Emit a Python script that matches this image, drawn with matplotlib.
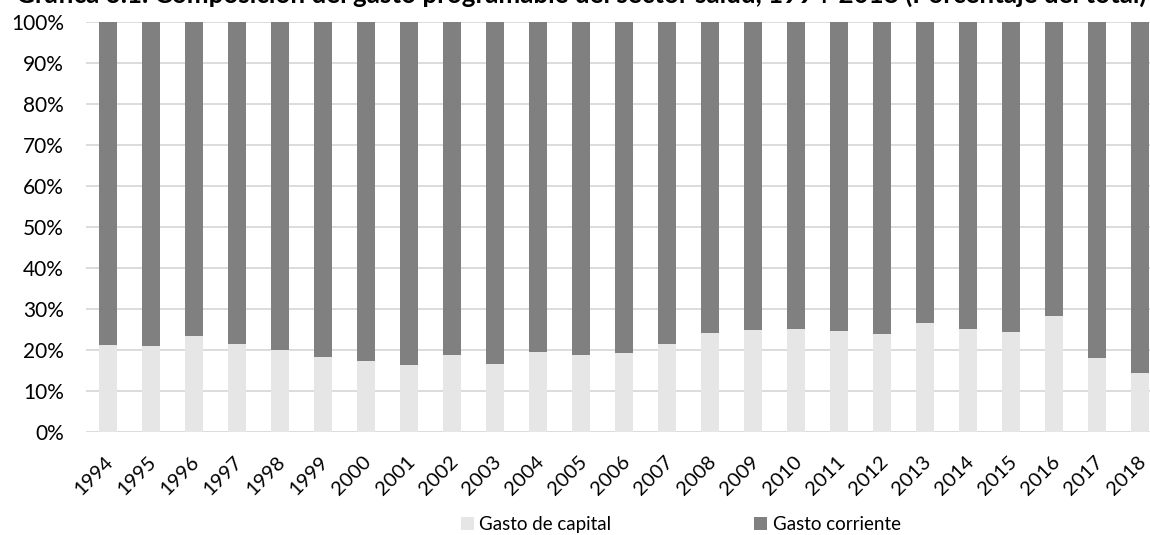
import numpy as np
import matplotlib.pyplot as plt
import matplotlib.transforms as mtransforms

plt.rcParams['font.family'] = ['Lato', 'DejaVu Sans']

years = [str(y) for y in range(1994, 2019)]
# share of capital spending, % of total
capital = [21.2, 21.0, 23.5, 21.5, 20.1, 18.2, 17.3, 16.4, 18.7, 16.5,
           19.6, 18.8, 19.3, 21.4, 24.2, 24.9, 25.2, 24.7, 24.0, 26.5,
           25.0, 24.5, 28.4, 18.1, 14.3]
corriente = [100 - c for c in capital]

fig = plt.figure(figsize=(11.5, 5.35), dpi=100)
ax = fig.add_axes([0.075, 0.1925, 0.935, 0.7665])

x = np.arange(len(years))
ax.bar(x, capital, width=0.42, color='#e6e6e6', label='Gasto de capital', zorder=2)
ax.bar(x, corriente, width=0.42, bottom=capital, color='#808080',
       label='Gasto corriente', zorder=2)

ax.set_xlim(-0.5, len(years) - 0.5)
ax.set_ylim(0, 100)
ax.set_yticks(range(0, 101, 10))
ax.set_yticklabels([f'{v}%' for v in range(0, 101, 10)], fontsize=15)
ax.yaxis.grid(True, color='#d9d9d9', linewidth=1.3, zorder=0)
ax.set_xticks(x)
ax.set_xticklabels(years, rotation=45, ha='right', rotation_mode='anchor', fontsize=14.5)
ax.tick_params(axis='y', length=0, pad=16)
ax.tick_params(axis='x', length=0, pad=15)
shift = mtransforms.ScaledTranslation(-3 / 100, 0, fig.dpi_scale_trans)
for lbl in ax.get_xticklabels():
    lbl.set_transform(lbl.get_transform() + shift)
for s in ax.spines.values():
    s.set_visible(False)

fig.legend(loc='lower center', bbox_to_anchor=(0.592, -0.028), ncol=2, frameon=False,
           fontsize=13.5, handlelength=0.7, handleheight=0.7, handletextpad=0.3,
           columnspacing=7.6)

fig.text(0.505, 1 - 3 / 535,
         'Gráfica 3.1. Composición del gasto programable del sector salud, '
         '1994-2018 (Porcentaje del total)',
         ha='center', va='baseline', fontsize=18.7, fontweight='bold')

fig.savefig('out.png', dpi=100)
